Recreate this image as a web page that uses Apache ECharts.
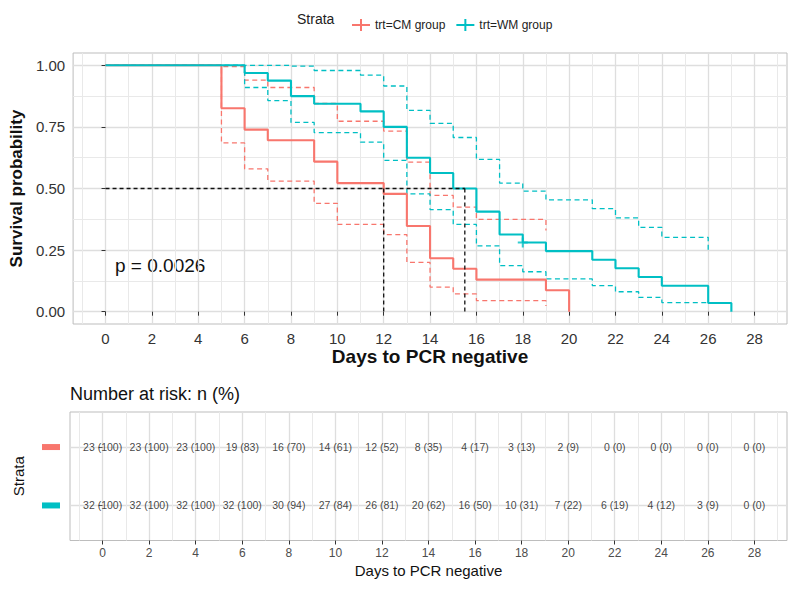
<!DOCTYPE html>
<html><head><meta charset="utf-8">
<script src="https://cdn.jsdelivr.net/npm/echarts@6/dist/echarts.min.js"></script>
<style>html,body{margin:0;padding:0;background:#fff}#c{width:792px;height:590px}</style>
</head><body><div id="c"></div>
<script>
const FONT = '"Liberation Sans", Arial, sans-serif';
const RED = '#F8766D', TEAL = '#00BFC4';

// ---- Data ----
const cmTime   = [0, 5, 6, 7, 9, 10, 12, 13, 14, 15, 16, 19, 20];
const cmSurv   = [1, 0.826, 0.739, 0.696, 0.609, 0.522, 0.478, 0.348, 0.217, 0.174, 0.130, 0.087, 0];
const cmCiTime = [0, 5, 6, 7, 9, 10, 12, 13, 14, 15, 16, 19];
const cmUpper  = [1, 0.995, 0.94, 0.91, 0.845, 0.773, 0.733, 0.607, 0.472, 0.424, 0.375, 0.33];
const cmLower  = [1, 0.685, 0.58, 0.53, 0.44, 0.354, 0.313, 0.2, 0.1, 0.072, 0.045, 0.023];

const wmTime   = [0, 6, 7, 8, 9, 11, 12, 13, 14, 15, 16, 17, 18, 19, 21, 22, 23, 24, 26, 27];
const wmSurv   = [1, 0.969, 0.938, 0.875, 0.844, 0.813, 0.75, 0.625, 0.563, 0.5, 0.406, 0.313, 0.281, 0.246, 0.211, 0.176, 0.141, 0.105, 0.035, 0];
const wmCiTime = [0, 6, 7, 8, 9, 11, 12, 13, 14, 15, 16, 17, 18, 19, 21, 22, 23, 24, 26];
const wmUpper  = [1, 1, 1, 0.997, 0.979, 0.96, 0.916, 0.817, 0.764, 0.707, 0.618, 0.522, 0.489, 0.454, 0.418, 0.381, 0.342, 0.302, 0.24];
const wmLower  = [1, 0.91, 0.857, 0.768, 0.727, 0.688, 0.614, 0.478, 0.414, 0.354, 0.267, 0.187, 0.162, 0.133, 0.106, 0.081, 0.058, 0.037, 0.037];

const wmCensorTime = [18];
const wmCensorSurv = [0.281];

const medianLevel = 0.5;
const medianTimes = [12, 15.5];

const xMajorTicks = [0, 2, 4, 6, 8, 10, 12, 14, 16, 18, 20, 22, 24, 26, 28];
const xMinorTicks = [-1, 1, 3, 5, 7, 9, 11, 13, 15, 17, 19, 21, 23, 25, 27, 29];
const yMajorTicks = [0, 0.25, 0.5, 0.75, 1];
const yMinorTicks = [0.125, 0.375, 0.625, 0.875];

const riskTimes = [0, 2, 4, 6, 8, 10, 12, 14, 16, 18, 20, 22, 24, 26, 28];
const cmRisk = ['23 (100)', '23 (100)', '23 (100)', '19 (83)', '16 (70)', '14 (61)', '12 (52)', '8 (35)', '4 (17)', '3 (13)', '2 (9)', '0 (0)', '0 (0)', '0 (0)', '0 (0)'];
const wmRisk = ['32 (100)', '32 (100)', '32 (100)', '32 (100)', '30 (94)', '27 (84)', '26 (81)', '20 (62)', '16 (50)', '10 (31)', '7 (22)', '6 (19)', '4 (12)', '3 (9)', '0 (0)'];

const pValueText = 'p = 0.0026';

// ---- helpers ----
const zip = (a, b) => a.map((v, i) => [v, b[i]]);
const MAJOR = { show: true, lineStyle: { color: '#dedede', width: 1.3 } };
const MINOR = { show: true, lineStyle: { color: '#e9e9e9', width: 1 } };
const plusPath = 'path://M0,5L18,5L18,7L0,7Z M8,0L10,0L10,12L8,12Z';

function majorX(grid, opts) {
  return Object.assign({
    gridIndex: grid, type: 'value', min: -1.4, max: 29.4,
    axisLine: { show: false },
    axisTick: { show: true, length: 4, customValues: xMajorTicks, lineStyle: { color: '#333' } },
    axisLabel: { customValues: xMajorTicks, fontFamily: FONT, color: '#333', fontSize: 15, margin: 7 },
    splitLine: MAJOR, nameLocation: 'middle'
  }, opts);
}
function minorX(grid) {
  return { gridIndex: grid, type: 'value', min: -1.4, max: 29.4, position: 'bottom',
    axisLine: { show: false }, axisLabel: { show: false },
    axisTick: { show: false, customValues: xMinorTicks }, splitLine: MINOR };
}

const chart = echarts.init(document.getElementById('c'), null, { renderer: 'svg' });

const stepLine = (name, data, color, width, dashed, z) => ({
  name, type: 'line', step: 'end', data, xAxisIndex: 0, yAxisIndex: 0,
  showSymbol: false, symbol: 'none', silent: true, z,
  lineStyle: { color, width, type: dashed ? [5, 3.5] : 'solid' },
  itemStyle: { color }
});

const series = [
  stepLine('CM upper', zip(cmCiTime, cmUpper), RED, 1.3, true, 2),
  stepLine('CM lower', zip(cmCiTime, cmLower), RED, 1.3, true, 2),
  stepLine('WM upper', zip(wmCiTime, wmUpper), TEAL, 1.3, true, 2),
  stepLine('WM lower', zip(wmCiTime, wmLower), TEAL, 1.3, true, 2),
  stepLine('trt=CM group', zip(cmTime, cmSurv), RED, 2.1, false, 3),
  stepLine('trt=WM group', zip(wmTime, wmSurv), TEAL, 2.1, false, 3),
  {
    name: 'WM censor', type: 'scatter', xAxisIndex: 0, yAxisIndex: 0, z: 4, silent: true,
    data: zip(wmCensorTime, wmCensorSurv), symbol: 'path://M0,4L10,4L10,6L0,6Z M4,0L6,0L6,10L4,10Z',
    symbolSize: 10, itemStyle: { color: TEAL }
  },
  {
    name: 'median h', type: 'line', xAxisIndex: 0, yAxisIndex: 0, z: 5, silent: true, symbol: 'none',
    data: [[0, medianLevel], [Math.max(...medianTimes), medianLevel]],
    lineStyle: { color: '#111', width: 1.3, type: [4, 3] }
  }
].concat(medianTimes.map((t, i) => ({
  name: 'median v' + i, type: 'line', xAxisIndex: 0, yAxisIndex: 0, z: 5, silent: true, symbol: 'none',
  data: [[t, medianLevel], [t, 0]],
  lineStyle: { color: '#111', width: 1.3, type: [4, 3] }
}))).concat([
  {
    name: 'risk CM', type: 'scatter', xAxisIndex: 2, yAxisIndex: 2, silent: true, symbolSize: 0,
    data: riskTimes.map((t, i) => [t, 2, cmRisk[i]]),
    label: { show: true, position: 'inside', formatter: p => p.value[2], fontFamily: FONT, fontSize: 10.5, color: '#111' }
  },
  {
    name: 'risk WM', type: 'scatter', xAxisIndex: 2, yAxisIndex: 2, silent: true, symbolSize: 0,
    data: riskTimes.map((t, i) => [t, 1, wmRisk[i]]),
    label: { show: true, position: 'inside', formatter: p => p.value[2], fontFamily: FONT, fontSize: 10.5, color: '#111' }
  }
]);

chart.setOption({
  animation: false,
  backgroundColor: '#fff',
  textStyle: { fontFamily: FONT },
  grid: [
    { left: 70, top: 53, width: 717, height: 271, show: true, borderColor: '#bdbdbd', borderWidth: 1, backgroundColor: 'transparent' },
    { left: 70, top: 412, width: 717, height: 128.5, show: true, borderColor: '#bdbdbd', borderWidth: 1, backgroundColor: 'transparent' }
  ],
  legend: {
    left: 347, top: 14, itemWidth: 18, itemHeight: 12, itemGap: 11,
    textStyle: { fontFamily: FONT, fontSize: 12, color: '#222' },
    data: [{ name: 'trt=CM group', icon: plusPath }, { name: 'trt=WM group', icon: plusPath }],
    selectedMode: false
  },
  graphic: [
    { type: 'text', left: 297, top: 12, style: { text: 'Strata', fontFamily: FONT, fontSize: 14, fill: '#222' } },
    { type: 'text', left: 115, top: 256, style: { text: pValueText, fontFamily: FONT, fontSize: 19, fill: '#111' } },
    { type: 'text', left: 70, top: 385, style: { text: 'Number at risk: n (%)', fontFamily: FONT, fontSize: 18, fill: '#111' } }
  ],
  xAxis: [
    majorX(0, { name: 'Days to PCR negative', nameGap: 20,
      nameTextStyle: { fontFamily: FONT, fontSize: 19, fontWeight: 'bold', color: '#111' } }),
    minorX(0),
    majorX(1, { name: 'Days to PCR negative', nameGap: 22,
      axisLabel: { customValues: xMajorTicks, fontFamily: FONT, color: '#4d4d4d', fontSize: 12, margin: 6 },
      nameTextStyle: { fontFamily: FONT, fontSize: 15, color: '#111' } }),
    minorX(1)
  ],
  yAxis: [
    {
      gridIndex: 0, type: 'value', min: -0.05, max: 1.05,
      axisLine: { show: false },
      axisTick: { show: true, length: 4, customValues: yMajorTicks, lineStyle: { color: '#333' } },
      axisLabel: { customValues: yMajorTicks, formatter: v => v.toFixed(2), fontFamily: FONT, fontSize: 15, color: '#333', margin: 8 },
      splitLine: MAJOR,
      name: 'Survival probability', nameLocation: 'middle', nameGap: 40,
      nameTextStyle: { fontFamily: FONT, fontSize: 17, fontWeight: 'bold', color: '#111' }
    },
    {
      gridIndex: 0, type: 'value', min: -0.05, max: 1.05, position: 'left',
      axisLine: { show: false }, axisLabel: { show: false },
      axisTick: { show: false, customValues: yMinorTicks }, splitLine: MINOR
    },
    {
      gridIndex: 1, type: 'value', min: 0.4, max: 2.6,
      axisLine: { show: false },
      axisTick: { show: true, length: 4, customValues: [1, 2], lineStyle: { color: '#555' } },
      axisLabel: {
        customValues: [1, 2], margin: 10,
        formatter: v => (v === 2 ? '{r|}' : '{t|}'),
        rich: { r: { width: 18, height: 6, backgroundColor: RED }, t: { width: 18, height: 6, backgroundColor: TEAL } }
      },
      splitLine: MAJOR,
      name: 'Strata', nameLocation: 'middle', nameGap: 44,
      nameTextStyle: { fontFamily: FONT, fontSize: 15, color: '#111' }
    }
  ],
  series
});
</script>
</body></html>
